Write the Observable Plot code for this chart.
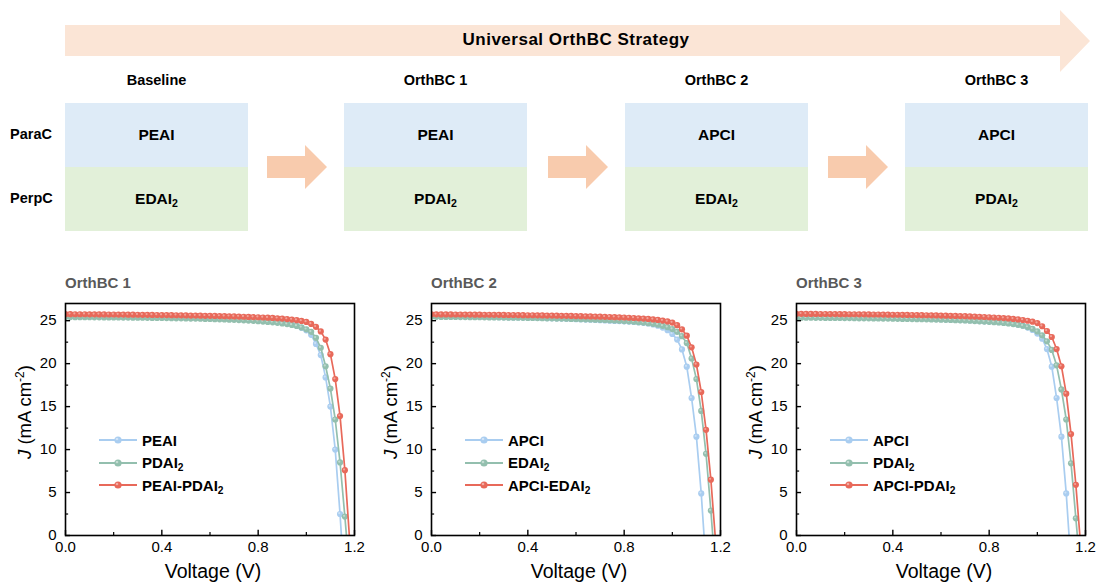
<!DOCTYPE html>
<html>
<head>
<meta charset="utf-8">
<script src="https://cdn.jsdelivr.net/npm/d3@7"></script>
<script src="https://cdn.jsdelivr.net/npm/@observablehq/plot@0.6"></script>
<style>
  html, body { margin: 0; padding: 0; background: #fff; }
  body { font-family: "Liberation Sans", Arial, sans-serif; color: #000; }
  #fig { position: relative; width: 1099px; height: 584px; overflow: hidden; }
  .abs { position: absolute; }
  sub { font-size: 0.68em; vertical-align: -0.28em; line-height: 0; }
  .strategy { left: 65px; top: 10px; width: 1025px; height: 62px; background: #fbe5d6;
    clip-path: polygon(0 15px, 995px 15px, 995px 0, 100% 50%, 995px 100%, 995px 46px, 0 46px); }
  .strategy-text { left: 376px; width: 400px; top: 30px; text-align: center; font-weight: bold; font-size: 17px; letter-spacing: 0.5px; }
  .stage { top: 72px; width: 183px; text-align: center; font-weight: bold; font-size: 14.5px; }
  .cell { width: 183px; height: 64px; line-height: 64px; text-align: center; font-weight: bold; font-size: 15.5px; }
  .para { top: 103px; background: #deebf7; }
  .perp { top: 167px; background: #e2f0d9; }
  .rowlab { left: 10px; font-weight: bold; font-size: 14.5px; }
  .step { top: 145px; width: 60px; height: 44px; background: #f8cbad;
    clip-path: polygon(0 11px, 38px 11px, 38px 0, 100% 50%, 38px 100%, 38px 33px, 0 33px); }
  .panel { top: 290px; width: 364px; height: 294px; }
  .ptitle { left: 65px; top: -16px; font-weight: bold; font-size: 15px; color: #595959; white-space: nowrap; }
  .xlab { left: 113px; width: 200px; top: 270px; text-align: center; font-size: 19.5px; }
  .ylab { left: 25px; top: 122px; font-size: 18.5px; white-space: nowrap; transform: translate(-50%, -50%) rotate(-90deg); }
  .legend { left: 98px; top: 141px; font-weight: bold; font-size: 15px; }
  .legend .row { position: absolute; left: 0; display: flex; align-items: center; height: 18px; white-space: nowrap; }
  .legend svg { margin-right: 4px; }
</style>
</head>
<body>
<div id="fig"></div>
<script>
// ---- schematic content ----
const stageNames = ["Baseline", "OrthBC 1", "OrthBC 2", "OrthBC 3"];
const paraCations = ["PEAI", "PEAI", "APCI", "APCI"];
const perpCations = ["EDAI2", "PDAI2", "EDAI2", "PDAI2"];
const strategyTitle = "Universal OrthBC Strategy";

// ---- J–V data (voltage in V, current density in mA cm^-2) ----
const voltage = [
  0.00, 0.02, 0.04, 0.06, 0.08, 0.10, 0.12, 0.14, 0.16, 0.18,
  0.20, 0.22, 0.24, 0.26, 0.28, 0.30, 0.32, 0.34, 0.36, 0.38,
  0.40, 0.42, 0.44, 0.46, 0.48, 0.50, 0.52, 0.54, 0.56, 0.58,
  0.60, 0.62, 0.64, 0.66, 0.68, 0.70, 0.72, 0.74, 0.76, 0.78,
  0.80, 0.82, 0.84, 0.86, 0.88, 0.90, 0.92, 0.94, 0.96, 0.98,
  1.00, 1.02, 1.04, 1.06, 1.08, 1.10, 1.12, 1.14, 1.16, 1.18, 1.20
];

// OrthBC 1
const jPEAI = [
  25.66, 25.66, 25.65, 25.65, 25.64, 25.64, 25.63, 25.63, 25.62, 25.61,
  25.61, 25.60, 25.59, 25.58, 25.58, 25.57, 25.56, 25.55, 25.54, 25.53,
  25.52, 25.51, 25.50, 25.49, 25.48, 25.46, 25.45, 25.44, 25.42, 25.41,
  25.39, 25.37, 25.35, 25.33, 25.31, 25.29, 25.26, 25.23, 25.20, 25.16,
  25.13, 25.09, 25.04, 24.98, 24.91, 24.83, 24.72, 24.58, 24.40, 24.17,
  23.88, 23.35, 22.30, 21.00, 18.40, 15.00, 10.00, 2.50, -6.50, -16.0, -26.0
];
const jPDAI2a = [
  25.42, 25.42, 25.41, 25.41, 25.40, 25.40, 25.39, 25.39, 25.38, 25.38,
  25.37, 25.37, 25.36, 25.36, 25.35, 25.34, 25.34, 25.33, 25.32, 25.32,
  25.31, 25.30, 25.29, 25.28, 25.27, 25.26, 25.25, 25.24, 25.23, 25.21,
  25.20, 25.18, 25.16, 25.14, 25.12, 25.10, 25.07, 25.04, 25.01, 24.98,
  24.94, 24.90, 24.86, 24.81, 24.75, 24.68, 24.60, 24.50, 24.38, 24.22,
  24.00, 23.70, 23.00, 21.85, 19.70, 17.10, 13.50, 8.50, 2.20, -4.50, -12.0
];
const jPEAI_PDAI2 = [
  25.76, 25.76, 25.75, 25.75, 25.75, 25.74, 25.74, 25.73, 25.73, 25.72,
  25.72, 25.71, 25.71, 25.70, 25.70, 25.69, 25.68, 25.68, 25.67, 25.66,
  25.65, 25.65, 25.64, 25.63, 25.62, 25.61, 25.60, 25.59, 25.58, 25.57,
  25.56, 25.55, 25.54, 25.52, 25.51, 25.49, 25.48, 25.46, 25.44, 25.42,
  25.40, 25.37, 25.35, 25.32, 25.28, 25.24, 25.19, 25.13, 25.06, 24.97,
  24.85, 24.62, 24.28, 23.75, 22.80, 21.10, 18.20, 13.90, 7.60, -0.60, -9.50
];

// OrthBC 2
const jAPCIa = [
  25.52, 25.52, 25.51, 25.51, 25.50, 25.49, 25.49, 25.48, 25.47, 25.46,
  25.45, 25.44, 25.43, 25.42, 25.41, 25.40, 25.39, 25.38, 25.37, 25.36,
  25.35, 25.33, 25.32, 25.31, 25.29, 25.28, 25.26, 25.24, 25.22, 25.20,
  25.18, 25.16, 25.13, 25.11, 25.08, 25.06, 25.03, 25.00, 24.97, 24.95,
  24.93, 24.90, 24.86, 24.81, 24.75, 24.67, 24.56, 24.41, 24.20, 23.90,
  23.45, 22.80, 21.65, 19.65, 16.00, 11.50, 4.90, -3.50, -12.0, -21.0, -30.0
];
const jEDAI2 = [
  25.45, 25.45, 25.44, 25.44, 25.43, 25.43, 25.42, 25.42, 25.41, 25.40,
  25.40, 25.39, 25.38, 25.38, 25.37, 25.36, 25.35, 25.35, 25.34, 25.33,
  25.32, 25.31, 25.30, 25.29, 25.28, 25.27, 25.25, 25.24, 25.23, 25.21,
  25.20, 25.18, 25.16, 25.14, 25.12, 25.10, 25.08, 25.05, 25.02, 24.99,
  24.96, 24.92, 24.88, 24.83, 24.78, 24.71, 24.63, 24.53, 24.40, 24.24,
  24.02, 23.70, 23.20, 22.40, 20.60, 18.20, 14.50, 9.50, 2.90, -4.50, -12.5
];
const jAPCI_EDAI2 = [
  25.74, 25.74, 25.73, 25.73, 25.73, 25.72, 25.72, 25.71, 25.71, 25.70,
  25.70, 25.69, 25.69, 25.68, 25.68, 25.67, 25.66, 25.66, 25.65, 25.64,
  25.63, 25.63, 25.62, 25.61, 25.60, 25.59, 25.58, 25.57, 25.56, 25.55,
  25.54, 25.53, 25.51, 25.50, 25.48, 25.47, 25.45, 25.43, 25.41, 25.39,
  25.37, 25.34, 25.31, 25.28, 25.24, 25.20, 25.15, 25.09, 25.01, 24.91,
  24.78, 24.48, 24.00, 23.25, 21.90, 19.90, 16.70, 12.30, 6.50, -0.80, -9.00
];

// OrthBC 3
const jAPCIb = [
  25.50, 25.50, 25.49, 25.49, 25.48, 25.48, 25.47, 25.46, 25.46, 25.45,
  25.44, 25.43, 25.42, 25.41, 25.40, 25.39, 25.38, 25.37, 25.36, 25.35,
  25.34, 25.32, 25.31, 25.30, 25.28, 25.27, 25.25, 25.23, 25.21, 25.19,
  25.17, 25.15, 25.12, 25.10, 25.07, 25.05, 25.02, 24.99, 24.96, 24.93,
  24.90, 24.87, 24.83, 24.78, 24.72, 24.64, 24.54, 24.40, 24.20, 23.92,
  23.50, 22.90, 21.70, 19.65, 16.00, 11.50, 4.90, -3.50, -12.0, -21.0, -30.0
];
const jPDAI2b = [
  25.35, 25.35, 25.34, 25.34, 25.33, 25.33, 25.32, 25.32, 25.31, 25.31,
  25.30, 25.30, 25.29, 25.28, 25.28, 25.27, 25.26, 25.26, 25.25, 25.24,
  25.23, 25.22, 25.21, 25.20, 25.19, 25.18, 25.17, 25.16, 25.15, 25.13,
  25.12, 25.10, 25.08, 25.06, 25.04, 25.02, 24.99, 24.96, 24.93, 24.90,
  24.87, 24.83, 24.79, 24.74, 24.68, 24.61, 24.52, 24.41, 24.26, 24.05,
  23.75, 23.30, 22.60, 21.60, 19.80, 17.00, 13.50, 8.40, 2.00, -4.50, -12.0
];
const jAPCI_PDAI2 = [
  25.80, 25.80, 25.79, 25.79, 25.79, 25.78, 25.78, 25.77, 25.77, 25.76,
  25.76, 25.75, 25.75, 25.74, 25.74, 25.73, 25.72, 25.72, 25.71, 25.70,
  25.69, 25.69, 25.68, 25.67, 25.66, 25.65, 25.64, 25.63, 25.62, 25.61,
  25.60, 25.58, 25.57, 25.55, 25.54, 25.52, 25.50, 25.48, 25.46, 25.43,
  25.40, 25.37, 25.34, 25.30, 25.26, 25.21, 25.15, 25.08, 24.99, 24.88,
  24.72, 24.35, 23.80, 23.10, 21.70, 19.70, 16.50, 11.80, 5.90, -1.20, -9.00
];

const panelTitles = ["OrthBC 1", "OrthBC 2", "OrthBC 3"];
const panelLabels = [
  ["PEAI", "PDAI2", "PEAI-PDAI2"],
  ["APCI", "EDAI2", "APCI-EDAI2"],
  ["APCI", "PDAI2", "APCI-PDAI2"]
];
const panelSeries = [
  [jPEAI, jPDAI2a, jPEAI_PDAI2],
  [jAPCIa, jEDAI2, jAPCI_EDAI2],
  [jAPCIb, jPDAI2b, jAPCI_PDAI2]
];
const seriesColors = ["#a9cdf0", "#93bfae", "#e8695a"];
const xTicks = [0, 0.4, 0.8, 1.2];
const xMinorTicks = [0.2, 0.6, 1.0];
const yTicks = [0, 5, 10, 15, 20, 25];
const yMinorTicks = [2.5, 7.5, 12.5, 17.5, 22.5];

// trailing "2" of an iodide name is written as a subscript
const chem = (s) => s.replace(/I2$/, "I<sub>2</sub>");

const fig = document.getElementById("fig");
function el(cls, html, style) {
  const d = document.createElement("div");
  d.className = "abs " + cls;
  if (html != null) d.innerHTML = html;
  if (style) Object.assign(d.style, style);
  return d;
}

// ---- schematic: strategy arrow, stages, cation boxes ----
fig.append(el("strategy"));
fig.append(el("strategy-text", strategyTitle));
fig.append(el("rowlab", "ParaC", {top: "126px"}));
fig.append(el("rowlab", "PerpC", {top: "190px"}));
const boxLeft = [65, 344, 625, 905];
const stepLeft = [267, 548, 828];
stageNames.forEach((name, i) => {
  fig.append(el("stage", name, {left: boxLeft[i] + "px"}));
  fig.append(el("cell para", `<span>${chem(paraCations[i])}</span>`, {left: boxLeft[i] + "px"}));
  fig.append(el("cell perp", `<span>${chem(perpCations[i])}</span>`, {left: boxLeft[i] + "px"}));
});
stepLeft.forEach((x) => fig.append(el("step", null, {left: x + "px"})));

// ---- J–V panels ----
const frameLeft = [65, 431, 796];

function jvPlot(labels, series) {
  const data = series.map((js, k) => js.map((j, i) => ({v: voltage[i], j, s: labels[k]})));
  const marks = [];
  data.forEach((rows) => {
    marks.push(Plot.line(rows, {x: "v", y: "j", stroke: "s", strokeWidth: 1.7, clip: true}));
    marks.push(Plot.dot(rows, {x: "v", y: "j", fill: "s", r: 3.1, clip: true}));
    marks.push(Plot.dot(rows, {x: "v", y: "j", fill: "white", fillOpacity: 0.4, r: 1.1, dx: -0.8, dy: -0.8, clip: true}));
  });
  return Plot.plot({
    width: 364, height: 294,
    marginLeft: 65, marginRight: 10, marginTop: 13, marginBottom: 49,
    style: {fontFamily: "'Liberation Sans', Arial, sans-serif", fontSize: "15px", color: "#000", background: "transparent", overflow: "visible"},
    x: {domain: [0, 1.2], ticks: xTicks, tickSize: 0, tickPadding: 6, tickFormat: (d) => d.toFixed(1), label: null},
    y: {domain: [0, 27], ticks: yTicks, tickSize: 0, tickPadding: 9, label: null},
    color: {domain: labels, range: seriesColors},
    marks: [
      ...marks,
      Plot.ruleX(xTicks, {x: (d) => d, y1: 0, y2: 0.6, stroke: "black", strokeWidth: 1.4}),
      Plot.ruleX(xMinorTicks, {x: (d) => d, y1: 0, y2: 0.36, stroke: "black", strokeWidth: 1.2}),
      Plot.ruleY(yTicks, {y: (d) => d, x1: 0, x2: 0.021, stroke: "black", strokeWidth: 1.4}),
      Plot.ruleY(yMinorTicks, {y: (d) => d, x1: 0, x2: 0.013, stroke: "black", strokeWidth: 1.2}),
      Plot.frame({stroke: "black", strokeWidth: 1.6})
    ]
  });
}

function legendSwatch(color) {
  return `<svg width="40" height="12"><line x1="1" y1="6" x2="39" y2="6" stroke="${color}" stroke-width="2"/>` +
    `<circle cx="20" cy="6" r="3.6" fill="${color}"/><circle cx="19" cy="5" r="1.3" fill="white" fill-opacity="0.45"/></svg>`;
}

panelTitles.forEach((title, p) => {
  const panel = el("panel", null, {left: (frameLeft[p] - 65) + "px"});
  panel.append(jvPlot(panelLabels[p], panelSeries[p]));
  panel.append(el("ptitle", title));
  panel.append(el("xlab", "Voltage (V)"));
  panel.append(el("ylab", "<i>J</i> (mA cm<sup style='font-size:0.65em;vertical-align:0.55em;line-height:0'>-2</sup>)"));
  const leg = el("legend");
  panelLabels[p].forEach((name, k) => {
    const row = document.createElement("div");
    row.className = "row";
    row.style.top = (k * 22.5) + "px";
    row.innerHTML = legendSwatch(seriesColors[k]) + `<span>${chem(name)}</span>`;
    leg.append(row);
  });
  panel.append(leg);
  fig.append(panel);
});
</script>
</body>
</html>
